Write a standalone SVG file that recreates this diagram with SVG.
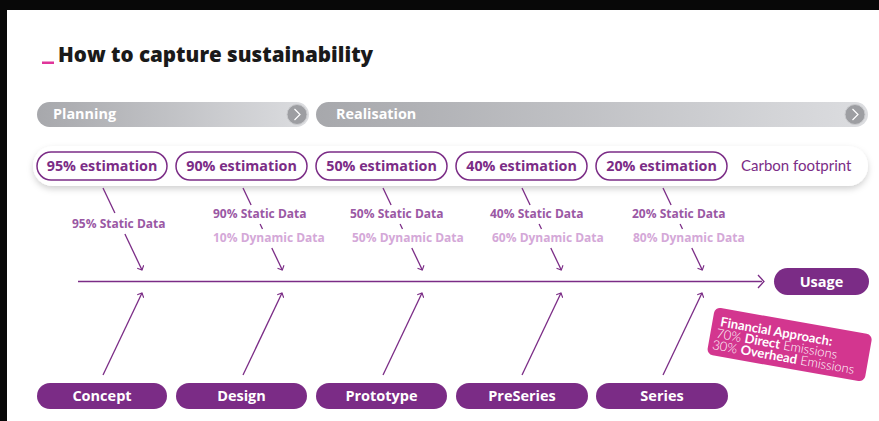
<svg xmlns="http://www.w3.org/2000/svg" width="879" height="421" viewBox="0 0 879 421">
  <defs>
    <linearGradient id="barGrad" x1="0" y1="0" x2="1" y2="0">
      <stop offset="0" stop-color="#a7a8ac"/>
      <stop offset="1" stop-color="#dcdde0"/>
    </linearGradient>
    <filter id="softShadow" x="-5%" y="-30%" width="110%" height="180%">
      <feDropShadow dx="0" dy="3" stdDeviation="3" flood-color="#000" flood-opacity="0.18"/>
    </filter>
    <marker id="head" viewBox="0 0 10 10" refX="9" refY="5" markerWidth="8" markerHeight="8" markerUnits="userSpaceOnUse" orient="auto">
      <path d="M4.5,0.5 L9,5 L4.5,9.5" fill="none" stroke="#7b2c86" stroke-width="1.4"/>
    </marker>
    <style>
      .title { font-family: "Open Sans", "Liberation Sans", sans-serif; font-weight: 800; font-size: 20.6px; fill: #1a1a1a; }
      .phase { font-family: "Open Sans", "Liberation Sans", sans-serif; font-weight: 700; font-size: 14.4px; fill: #ffffff; }
      .est-box { fill: #ffffff; stroke: #7b2c86; stroke-width: 1.5; }
      .est { font-family: "Open Sans", "Liberation Sans", sans-serif; font-weight: 700; font-size: 14.3px; fill: #7b2c86; text-anchor: middle; }
      .carbon { font-family: Lato, "Liberation Sans", sans-serif; font-weight: 400; font-size: 15px; fill: #7b2c86; }
      .static { font-family: "Open Sans", "Liberation Sans", sans-serif; font-weight: 700; font-size: 12px; fill: #9a58a4; }
      .dynamic { font-family: "Open Sans", "Liberation Sans", sans-serif; font-weight: 700; font-size: 12px; fill: #d4a8d8; }
      .stage-box { fill: #7b2c86; }
      .stage { font-family: "Open Sans", "Liberation Sans", sans-serif; font-weight: 700; font-size: 14.5px; fill: #ffffff; text-anchor: middle; }
      .conn { fill: none; stroke: #7b2c86; stroke-width: 1.3; }
      .fin { font-family: Lato, "Liberation Sans", sans-serif; font-size: 13px; fill: #ffffff; }
    </style>
  </defs>

  <!-- page frame -->
  <rect x="0" y="0" width="879" height="421" fill="#ffffff"/>
  <rect x="0" y="0" width="879" height="10" fill="#080808"/>
  <rect x="0" y="0" width="7" height="421" fill="#080808"/>

  <!-- heading -->
  <g id="title">
    <rect x="42" y="61.5" width="12" height="2.5" fill="#e0359a"/>
    <text class="title" x="58" y="62">How to capture sustainability</text>
  </g>

  <!-- phase bars -->
  <g id="phase-planning">
    <rect x="37" y="102" width="272" height="25" rx="12.5" fill="url(#barGrad)"/>
    <circle cx="297" cy="114.5" r="10" fill="#9d9ea2" stroke="#c9cacd" stroke-width="1"/>
    <path d="M294.5,109 L300,114.5 L294.5,120" fill="none" stroke="#ffffff" stroke-width="1.2"/>
    <text class="phase" x="53" y="119">Planning</text>
  </g>
  <g id="phase-realisation">
    <rect x="316" y="102" width="552" height="25" rx="12.5" fill="url(#barGrad)"/>
    <circle cx="855" cy="114.5" r="10" fill="#9d9ea2" stroke="#c9cacd" stroke-width="1"/>
    <path d="M852.5,109 L858,114.5 L852.5,120" fill="none" stroke="#ffffff" stroke-width="1.2"/>
    <text class="phase" x="336" y="119">Realisation</text>
  </g>

  <!-- carbon footprint strip -->
  <g id="carbon-strip">
    <rect x="33" y="146" width="835" height="40" rx="20" fill="#ffffff" filter="url(#softShadow)"/>
    <text class="carbon" x="741" y="171">Carbon footprint</text>
  </g>
  <g id="est-95">
    <rect class="est-box" x="37" y="152" width="130" height="28" rx="14"/>
    <text class="est" x="102" y="171">95% estimation</text>
  </g>
  <g id="est-90">
    <rect class="est-box" x="176" y="152" width="131" height="28" rx="14"/>
    <text class="est" x="241.5" y="171">90% estimation</text>
  </g>
  <g id="est-50">
    <rect class="est-box" x="316" y="152" width="131" height="28" rx="14"/>
    <text class="est" x="381.5" y="171">50% estimation</text>
  </g>
  <g id="est-40">
    <rect class="est-box" x="456" y="152" width="131" height="28" rx="14"/>
    <text class="est" x="521.5" y="171">40% estimation</text>
  </g>
  <g id="est-20">
    <rect class="est-box" x="596" y="152" width="131" height="28" rx="14"/>
    <text class="est" x="661.5" y="171">20% estimation</text>
  </g>

  <!-- data split labels -->
  <g id="data-95">
    <text class="static" x="72" y="228">95% Static Data</text>
  </g>
  <g id="data-90">
    <text class="static" x="213" y="218">90% Static Data</text>
    <text class="dynamic" x="213" y="242">10% Dynamic Data</text>
  </g>
  <g id="data-50">
    <text class="static" x="350" y="218">50% Static Data</text>
    <text class="dynamic" x="352" y="242">50% Dynamic Data</text>
  </g>
  <g id="data-40">
    <text class="static" x="490" y="218">40% Static Data</text>
    <text class="dynamic" x="492" y="242">60% Dynamic Data</text>
  </g>
  <g id="data-20">
    <text class="static" x="632" y="218">20% Static Data</text>
    <text class="dynamic" x="633" y="242">80% Dynamic Data</text>
  </g>

  <!-- stages -->
  <g id="stage-concept">
    <rect class="stage-box" x="37" y="383" width="130" height="26" rx="13"/>
    <text class="stage" x="102" y="401">Concept</text>
  </g>
  <g id="stage-design">
    <rect class="stage-box" x="176" y="383" width="131" height="26" rx="13"/>
    <text class="stage" x="241.5" y="401">Design</text>
  </g>
  <g id="stage-prototype">
    <rect class="stage-box" x="316" y="383" width="131" height="26" rx="13"/>
    <text class="stage" x="381.5" y="401">Prototype</text>
  </g>
  <g id="stage-preseries">
    <rect class="stage-box" x="456" y="383" width="132" height="26" rx="13"/>
    <text class="stage" x="522" y="401">PreSeries</text>
  </g>
  <g id="stage-series">
    <rect class="stage-box" x="596" y="383" width="132" height="26" rx="13"/>
    <text class="stage" x="662" y="401">Series</text>
  </g>
  <g id="usage">
    <rect class="stage-box" x="774" y="268" width="95" height="27" rx="13.5"/>
    <text class="stage" x="821.5" y="287">Usage</text>
  </g>

  <!-- financial note -->
  <g id="financial-note" transform="translate(715 307) rotate(10)">
    <rect x="0" y="0" width="160" height="48" rx="6" fill="#d3368f"/>
    <text class="fin" x="8" y="18" font-weight="700">Financial Approach:</text>
    <text class="fin" x="6" y="30" font-weight="300">70% <tspan font-weight="700">Direct</tspan> Emissions</text>
    <text class="fin" x="4" y="42" font-weight="300">30% <tspan font-weight="700">Overhead</tspan> Emissions</text>
  </g>

  <!-- connectors -->
  <g id="connectors">
    <!-- main axis -->
    <line class="conn" x1="78" y1="281.5" x2="762" y2="281.5"/>
    <path class="conn" d="M758,275 L764,281.5 L758,288"/>

    <!-- estimation to axis -->
    <line class="conn" x1="103" y1="188" x2="114.9" y2="213"/>
    <line class="conn" x1="124.9" y1="234" x2="142" y2="270" marker-end="url(#head)"/>

    <line class="conn" x1="243" y1="188" x2="251.1" y2="205"/>
    <line class="conn" x1="260.1" y1="224" x2="262.5" y2="229"/>
    <line class="conn" x1="271.8" y1="248" x2="282.3" y2="270" marker-end="url(#head)"/>

    <line class="conn" x1="383" y1="188" x2="391.1" y2="205"/>
    <line class="conn" x1="400.1" y1="224" x2="402.5" y2="229"/>
    <line class="conn" x1="411.8" y1="248" x2="422.3" y2="270" marker-end="url(#head)"/>

    <line class="conn" x1="522" y1="188" x2="530.1" y2="205"/>
    <line class="conn" x1="539.1" y1="224" x2="541.5" y2="229"/>
    <line class="conn" x1="550.8" y1="248" x2="561.3" y2="270" marker-end="url(#head)"/>

    <line class="conn" x1="663" y1="188" x2="671.1" y2="205"/>
    <line class="conn" x1="680.1" y1="224" x2="682.5" y2="229"/>
    <line class="conn" x1="691.8" y1="248" x2="702.3" y2="270" marker-end="url(#head)"/>

    <!-- stages to axis -->
    <line class="conn" x1="103" y1="375" x2="142" y2="293" marker-end="url(#head)"/>
    <line class="conn" x1="243" y1="375" x2="282" y2="293" marker-end="url(#head)"/>
    <line class="conn" x1="383" y1="375" x2="422" y2="293" marker-end="url(#head)"/>
    <line class="conn" x1="522" y1="375" x2="561" y2="293" marker-end="url(#head)"/>
    <line class="conn" x1="663" y1="375" x2="702" y2="293" marker-end="url(#head)"/>
  </g>
</svg>
